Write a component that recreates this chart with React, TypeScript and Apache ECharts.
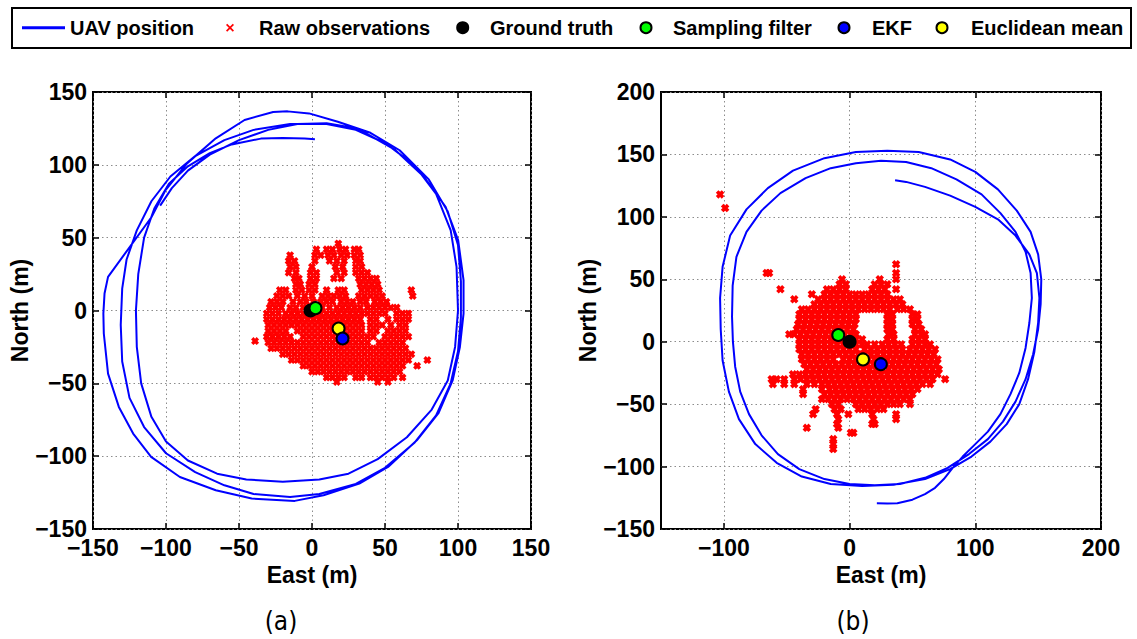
import React, { useEffect, useRef } from 'react';
import * as echarts from 'echarts';

const FONT = "'Liberation Sans', Arial, Helvetica, sans-serif";

const legendNames = ['UAV position', 'Raw observations', 'Ground truth', 'Sampling filter', 'EKF', 'Euclidean mean'];
const legendColors = ['#0000ff', '#ff0000', '#000000', '#00ff00', '#0000ff', '#ffff00'];
const subCaptions = ['(a)', '(b)'];
const axisNames = { x: 'East (m)', y: 'North (m)' };

// right-plot x tick values
const rightXTicks = [-100, 0, 100, 200];

// UAV trajectory, plot (a)
const uavA: number[][] = [
  [-104, 72], [-96, 84], [-85, 96], [-70, 107], [-50, 117], [-30, 124], [-10, 128], [10, 128.5], [25, 126], [35, 122.8],
  [57, 110.2], [76.7, 91.8], [91.5, 71.2], [100.1, 48.3], [103.8, 20.9], [103.8, -2.1], [101.3, -25], [96.4, -47.8],
  [86.5, -70.7], [71.8, -89.1], [52.1, -107.4], [32.4, -118.8], [7.9, -126.8], [-11.8, -130.7], [-41.3, -129.1],
  [-65.9, -123.4], [-90.5, -114.3], [-110.2, -100.5], [-122.5, -84.5], [-132.3, -66.2], [-139.7, -43.3], [-142.6, -15.8],
  [-142.9, -2], [-142.1, 11.7], [-139.7, 23.1],
  [-110, 64], [-100.3, 82.7], [-85.6, 101], [-65.9, 118.2], [-46.2, 130.8], [-26.6, 136.3], [-16.7, 136.7], [-2, 135.3], [17.7, 129.6],
  [40, 122], [60, 110], [80, 90], [93, 68], [100, 45], [102, 20], [102, -5], [100, -28], [95, -50], [85, -72], [70, -91],
  [50, -108], [30, -119], [5, -126], [-15, -128], [-40, -126], [-60, -120], [-80, -111], [-100, -98], [-115, -80],
  [-125, -60], [-130, -35], [-131, -10], [-130, 15], [-127, 35], [-120, 55], [-110, 75], [-97, 92], [-80, 106],
  [-60, 117], [-40, 124], [-15, 128], [10, 128], [30, 124],
  [50, 115], [70, 100], [85, 80], [95, 55], [99, 30], [100, 0], [98, -25], [93, -48], [82, -68], [65, -87], [45, -102],
  [25, -112], [5, -116], [-20, -117.5], [-45, -116], [-65, -112], [-85, -103], [-100, -90], [-110, -73], [-117, -50],
  [-120, -25], [-120.6, 0], [-119, 25], [-115, 50], [-108, 70], [-98, 87], [-85, 99], [-70, 108], [-55, 114],
  [-35, 118], [-20, 118.5], [-5, 118], [2, 117.5],
];

// UAV trajectory, plot (b)
const uavB: number[][] = [
  [21.7, -129.4], [30, -129.5], [38, -129.4], [50, -126.5], [60, -122], [68, -117], [75, -110], [82, -101], [90, -92],
  [100, -82], [110, -72], [120, -58], [128, -42], [135, -25], [140, -5], [143, 15], [145, 35], [144, 55], [140, 72],
  [132, 88], [120, 103], [105, 118], [85, 130], [65, 139], [45, 144], [25, 145], [5, 143], [-15, 139], [-35, 131],
  [-55, 119], [-70, 105], [-82, 88], [-90, 68], [-93, 45], [-93.5, 20], [-92.8, 0], [-91, -20], [-87, -40], [-80, -58],
  [-70, -75], [-57, -90], [-40, -102], [-20, -110], [0, -114], [20, -115], [40, -114], [60, -109], [78, -101],
  [95, -90], [110, -78], [122, -64], [132, -48], [140, -30], [146, -10], [150, 10], [152, 30], [152.5, 50], [150, 70],
  [144, 88], [133, 105], [118, 122], [100, 136], [80, 146], [55, 152], [30, 153], [5, 152], [-20, 147], [-45, 137],
  [-65, 123], [-82, 106], [-95, 85], [-101, 60], [-103, 35], [-102.5, 10], [-101, -15], [-96, -40], [-88, -62],
  [-75, -82], [-58, -97], [-38, -108], [-15, -114], [10, -115.5], [35, -114.5], [60, -110], [80, -102], [97, -92],
  [112, -80], [125, -66], [135, -50], [142, -30], [147, -8], [150, 15], [151, 35], [149, 55], [143, 70], [132, 85],
  [118, 98], [100, 108], [80, 117], [60, 124], [45, 128], [36.2, 129.4],
];

// raw observations, plot (a): [north, [east values]]
const rawRowsA: [number, number[]][] = [
  [46, [18]],
  [42, [3, 10, 14, 19, 23, 29, 32]],
  [38, [-15, 2, 6, 11, 15, 20, 24, 29, 33]],
  [34, [-16, -12, 2, 12, 17, 22, 30, 33]],
  [30, [-15, -11, 0, 16, 21, 30, 34]],
  [26, [-16, -11, -1, 3, 17, 22, 30, 34, 38]],
  [22, [-12, -9, -1, 3, 15, 20, 32, 36, 40, 44]],
  [18, [-11, -8, -2, 2, 33, 37, 41, 45]],
  [14, [-22, -18, -11, -7, -2, 2, 10, 18, 22, 34, 38, 42, 46, 68]],
  [10, [-24, -20, -16, -10, -5, 0, 7, 11, 15, 19, 23, 32, 36, 40, 44, 48, 69]],
  [6, [-28, -24, -20, -13, -8, -4, 1, 6, 10, 14, 20, 24, 28, 33, 37, 43, 47, 51]],
  [2, [-29, -25, -21, -15, -11, -6, -2, 2, 7, 12, 17, 21, 25, 29, 33, 38, 42, 46, 50, 54, 58]],
  [-2, [-31, -27, -23, -18, -14, -10, -6, -2, 2, 6, 10, 14, 18, 22, 26, 30, 34, 38, 42, 46, 50, 58, 62, 66]],
  [-6, [-31, -27, -23, -19, -15, -11, -7, -3, 1, 5, 9, 13, 17, 21, 25, 29, 33, 40, 44, 52, 58, 62, 66]],
  [-10, [-30, -26, -22, -18, -14, -10, -6, -2, 2, 6, 10, 14, 18, 22, 26, 30, 34, 40, 44, 48, 54, 60, 64]],
  [-14, [-30, -26, -22, -18, -10, -6, -2, 2, 6, 10, 14, 18, 22, 26, 30, 34, 40, 44, 52, 56, 60, 64]],
  [-18, [-31, -27, -23, -19, -15, -6, -2, 2, 6, 10, 14, 18, 22, 26, 30, 34, 38, 42, 50, 54, 58, 62, 66]],
  [-21, [-39]],
  [-22, [-30, -26, -22, -18, -14, -10, -6, -2, 2, 6, 10, 14, 18, 22, 26, 30, 34, 38, 46, 50, 54, 58, 62]],
  [-26, [-28, -24, -20, -16, -12, -8, -4, 0, 4, 8, 12, 16, 20, 24, 28, 32, 36, 40, 44, 48, 52, 56, 60, 64]],
  [-30, [-20, -16, -12, -8, -4, 0, 4, 8, 12, 16, 20, 24, 28, 32, 36, 40, 44, 48, 52, 56, 60, 64, 68]],
  [-34, [-14, -10, -6, -2, 2, 6, 10, 14, 18, 22, 26, 30, 34, 38, 42, 46, 50, 54, 58, 62, 66, 79]],
  [-38, [-6, -2, 2, 6, 10, 14, 18, 22, 26, 30, 34, 38, 42, 46, 50, 54, 58, 62, 72]],
  [-42, [0, 4, 8, 12, 16, 20, 24, 28, 32, 36, 40, 44, 48, 52, 56, 60]],
  [-46, [10, 14, 18, 22, 30, 34, 40, 44, 48, 52, 56, 62]],
  [-49, [17, 45, 52]],
];

// raw observations, plot (b)
const rawRowsB: [number, number[]][] = [
  [118, [-103]],
  [107, [-99]],
  [62, [37]],
  [55, [-66, -64, 37]],
  [50, [-6, 24, 37]],
  [46, [-8, -3, 20, 25, 30]],
  [42, [-55, -18, -13, -8, -3, 18, 23, 28, 37]],
  [38, [-30, -20, -15, -10, -5, 0, 5, 10, 15, 20, 25, 30]],
  [34, [-44, -25, -20, -15, -10, -5, 0, 5, 10, 15, 20, 25, 30, 35, 40]],
  [30, [-28, -23, -18, -13, -8, -3, 2, 7, 12, 17, 22, 27, 32, 37, 42]],
  [26, [-38, -33, -28, -23, -18, -13, -8, -3, 2, 7, 12, 17, 22, 27, 32, 38, 43, 48]],
  [22, [-40, -35, -30, -25, -20, -15, -10, -5, 0, 5, 30, 34, 50, 54]],
  [18, [-40, -35, -30, -25, -20, -15, -10, -5, 0, 5, 30, 34, 50, 54]],
  [14, [-41, -36, -31, -26, -21, -16, -11, -6, -1, 4, 30, 34, 50, 55]],
  [10, [-42, -37, -32, -27, -22, -17, -12, -7, -2, 3, 30, 34, 52, 57]],
  [6, [-48, -44, -39, -34, -29, -24, -19, -14, -9, -4, 1, 5, 31, 35, 52, 57, 60]],
  [2, [-40, -35, -30, -25, -20, -15, -10, -5, 0, 5, 10, 30, 35, 50, 55, 60]],
  [-2, [-40, -35, -30, -25, -20, -15, -10, -5, 0, 5, 10, 14, 20, 26, 31, 36, 41, 50, 55, 60, 64]],
  [-6, [-40, -35, -30, -25, -20, -15, -10, -5, 0, 5, 12, 17, 22, 27, 32, 37, 42, 48, 53, 58, 63, 68]],
  [-10, [-38, -33, -28, -23, -18, -13, -8, -3, 2, 7, 12, 17, 22, 27, 32, 37, 42, 47, 52, 57, 62, 67]],
  [-14, [-38, -33, -28, -23, -18, -13, -5, 0, 5, 10, 15, 20, 25, 30, 35, 40, 45, 50, 55, 60, 65, 70]],
  [-18, [-36, -31, -26, -21, -16, -11, -6, -1, 4, 9, 14, 19, 24, 29, 34, 39, 44, 49, 54, 59, 64, 69]],
  [-22, [-34, -29, -24, -19, -14, -9, -4, 1, 6, 11, 16, 21, 26, 31, 36, 41, 46, 51, 56, 61, 66, 71]],
  [-26, [-45, -40, -35, -30, -25, -20, -15, -10, -5, 0, 5, 10, 15, 20, 25, 30, 35, 40, 45, 50, 55, 60, 65, 70]],
  [-30, [-62, -58, -52, -44, -39, -34, -29, -24, -19, -14, -9, -4, 1, 6, 11, 16, 21, 26, 31, 36, 41, 46, 51, 56, 61, 66, 76]],
  [-34, [-61, -52, -44, -34, -28, -22, -17, -12, -7, -2, 3, 8, 13, 18, 23, 28, 33, 38, 43, 48, 53, 58, 64]],
  [-38, [-37, -22, -16, -11, -6, -1, 4, 9, 14, 19, 24, 29, 34, 39, 44, 49, 54]],
  [-42, [-37, -20, -15, -10, -5, 0, 5, 10, 15, 20, 25, 30, 35, 40, 45, 50]],
  [-46, [-22, -17, -12, -7, -2, 3, 8, 13, 18, 23, 28, 33, 38, 43, 48]],
  [-50, [-14, -9, 5, 10, 15, 20, 25, 30, 35, 40, 48]],
  [-54, [-27, -12, -7, 7, 12, 17, 22, 27]],
  [-58, [-29, -10, -1, 18, 37]],
  [-62, [-9, 19, 37]],
  [-66, [-10, 18, 20]],
  [-69, [-34, -9]],
  [-73, [1, 3]],
  [-78, [-13]],
  [-82, [-13]],
  [-86, [-13]],
];

// estimates
const truthA = [[-1, 0]];
const samplingA = [[2.4, 1.6]];
const ekfA = [[20.9, -19.2]];
const euclidA = [[18.2, -12.4]];
const truthB = [[0, 0]];
const samplingB = [[-9, 5.4]];
const ekfB = [[24.9, -18]];
const euclidB = [[10.7, -14.2]];

const X_SYMBOL = 'path://M3,0L5,2L7,0L10,3L8,5L10,7L7,10L5,8L3,10L0,7L2,5L0,3Z';

const fmt = (v: number) => (v < 0 ? '\u2212' + Math.abs(v) : String(v));

const tickFont = { fontSize: 23, fontWeight: 'bold' as const, fontFamily: FONT, color: '#000' };
const gridLineStyle = { color: '#8c8c8c', width: 1, type: [1.5, 3] };

function makeX(grid: number, min: number, max: number, interval: number, custom?: number[]) {
  const tick: any = { show: true, inside: true, length: 6, lineStyle: { color: '#000', width: 1.5 } };
  const label: any = { ...tickFont, margin: 7, formatter: fmt };
  if (custom) { tick.customValues = custom; label.customValues = custom; }
  return [
    {
      type: 'value', gridIndex: grid, min, max, interval, position: 'bottom',
      name: axisNames.x, nameLocation: 'middle', nameGap: 30,
      nameTextStyle: { fontSize: 23, fontWeight: 'bold', fontFamily: FONT, color: '#000' },
      axisLine: { show: false, onZero: false }, axisTick: tick, axisLabel: label,
      splitLine: { show: true, lineStyle: gridLineStyle },
    },
    {
      type: 'value', gridIndex: grid, min, max, interval, position: 'top',
      axisLine: { show: false, onZero: false }, axisTick: { ...tick }, axisLabel: { show: false }, splitLine: { show: false },
    },
  ];
}

function makeY(grid: number, min: number, max: number, interval: number) {
  const tick: any = { show: true, inside: true, length: 6, lineStyle: { color: '#000', width: 1.5 } };
  return [
    {
      type: 'value', gridIndex: grid, min, max, interval, position: 'left',
      name: axisNames.y, nameLocation: 'middle', nameGap: 60, nameRotate: 90,
      nameTextStyle: { fontSize: 23, fontWeight: 'bold', fontFamily: FONT, color: '#000' },
      axisLine: { show: false, onZero: false }, axisTick: tick,
      axisLabel: { ...tickFont, margin: 6, formatter: fmt },
      splitLine: { show: true, lineStyle: gridLineStyle },
    },
    {
      type: 'value', gridIndex: grid, min, max, interval, position: 'right',
      axisLine: { show: false, onZero: false }, axisTick: { ...tick }, axisLabel: { show: false }, splitLine: { show: false },
    },
  ];
}

function rowsToPoints(rows: [number, number[]][]) {
  return rows.flatMap(([y, xs]) => xs.map((x) => [x, y]));
}

function plotSeries(idx: number, uav: number[][], rawRows: [number, number[]][], truth: number[][], sampling: number[][], euclid: number[][], ekf: number[][], rawSize: number) {
  const ax = { xAxisIndex: idx * 2, yAxisIndex: idx * 2 };
  const dot = (name: string, color: string, data: number[][], z: number) => ({
    name, type: 'scatter', ...ax, data, symbol: 'circle', symbolSize: 12, z,
    itemStyle: { color, borderColor: '#000', borderWidth: 2, opacity: 1 },
  });
  return [
    {
      name: legendNames[1], type: 'scatter', ...ax, data: rowsToPoints(rawRows),
      symbol: X_SYMBOL, symbolSize: rawSize, z: 2, itemStyle: { color: legendColors[1], opacity: 1 },
    },
    {
      name: legendNames[0], type: 'line', ...ax, data: uav, symbol: 'none', showSymbol: false, z: 3,
      lineStyle: { color: legendColors[0], width: 2 }, itemStyle: { color: legendColors[0] },
    },
    dot(legendNames[2], legendColors[2], truth, 4),
    dot(legendNames[3], legendColors[3], sampling, 5),
    dot(legendNames[5], legendColors[5], euclid, 6),
    dot(legendNames[4], legendColors[4], ekf, 7),
  ];
}

// legend layout (pixels): icon centre x and text start x
const legendIconX = [43.5, 230, 462.7, 646, 844, 942];
const legendTextX = [70, 259, 490, 673, 872, 971];
const LEG_Y = 27.7;

function legendGraphics() {
  const els: any[] = [
    { type: 'rect', shape: { x: 12, y: 8, width: 1119, height: 40 }, style: { fill: '#fff', stroke: '#000', lineWidth: 2 }, z: 10 },
  ];
  legendNames.forEach((name, i) => {
    const cx = legendIconX[i];
    if (i === 0) {
      els.push({ type: 'line', shape: { x1: 22, y1: LEG_Y, x2: 65, y2: LEG_Y }, style: { stroke: legendColors[0], lineWidth: 3 }, z: 11 });
    } else if (i === 1) {
      els.push({
        type: 'polygon', x: cx, y: LEG_Y, z: 11,
        shape: { points: [[-2.8, -4], [0, -1.2], [2.8, -4], [4, -2.8], [1.2, 0], [4, 2.8], [2.8, 4], [0, 1.2], [-2.8, 4], [-4, 2.8], [-1.2, 0], [-4, -2.8]] },
        style: { fill: legendColors[1] },
      });
    } else {
      els.push({ type: 'circle', shape: { cx, cy: LEG_Y, r: 5.5 }, style: { fill: legendColors[i], stroke: '#000', lineWidth: 2 }, z: 11 });
    }
    els.push({
      type: 'text', x: legendTextX[i], y: LEG_Y + 0.5, z: 11,
      style: { text: name, font: `bold 20px ${FONT}`, fill: '#000', textAlign: 'left', textVerticalAlign: 'middle' },
    });
  });
  return els;
}

export default function App() {
  const ref = useRef<HTMLDivElement>(null);
  useEffect(() => {
    if (!ref.current) return;
    const chart = echarts.init(ref.current, null, { renderer: 'svg' });
    const option: any = {
      animation: false,
      backgroundColor: '#ffffff',
      grid: [
        { left: 93, top: 92, width: 438, height: 437, show: true, borderColor: '#000', borderWidth: 2, backgroundColor: 'transparent', outerBoundsMode: 'none' },
        { left: 661, top: 92, width: 440, height: 437, show: true, borderColor: '#000', borderWidth: 2, backgroundColor: 'transparent', outerBoundsMode: 'none' },
      ],
      xAxis: [...makeX(0, -150, 150, 50), ...makeX(1, -150, 200, 50, rightXTicks)],
      yAxis: [...makeY(0, -150, 150, 50), ...makeY(1, -150, 200, 50)],
      graphic: [
        ...legendGraphics(),
        { type: 'text', x: 281, y: 621, style: { text: subCaptions[0], font: "26px 'DejaVu Sans Condensed', 'DejaVu Sans', sans-serif", fill: '#000', textAlign: 'center', textVerticalAlign: 'middle' } },
        { type: 'text', x: 853, y: 621, style: { text: subCaptions[1], font: "26px 'DejaVu Sans Condensed', 'DejaVu Sans', sans-serif", fill: '#000', textAlign: 'center', textVerticalAlign: 'middle' } },
      ],
      series: [
        ...plotSeries(0, uavA, rawRowsA, truthA, samplingA, euclidA, ekfA, 8),
        ...plotSeries(1, uavB, rawRowsB, truthB, samplingB, euclidB, ekfB, 8.5),
      ],
    };
    chart.setOption(option);
    return () => chart.dispose();
  }, []);
  return <div ref={ref} style={{ position: 'absolute', left: 0, top: 0, width: 1137, height: 639 }} />;
}
